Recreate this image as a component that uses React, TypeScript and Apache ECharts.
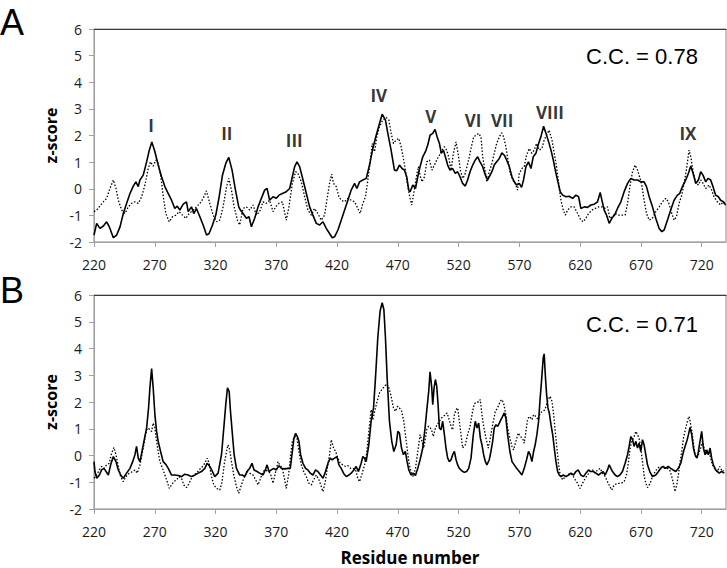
import React, { useEffect, useRef } from "react";
import * as echarts from "echarts";

// ---- Panel A: solid profile ----
const aSolidX = [220,222.2,224.9,227.7,230.4,232.6,235.9,238.6,241.4,244.1,246.8,249.6,252.3,254.5,256.4,257.8,260.5,263.3,265.5,267.6,270.1,272.8,275.6,278.3,281.1,283.8,286.5,288.5,290.6,293.4,296.1,297.5,300.2,302.1,304.3,307.1,309.8,312.6,314.7,317.5,320.2,323,325.7,328.4,330.9,333.6,336.4,339.1,340.5,342.6,345.4,347.6,349.5,352.2,355,357.7,360.4,362.4,364.5,367.3,370,372.2,375,378.2,381,383.2,385.1,387,389.2,392,394.7,397.4,400.1,402.9,405.6,408.4,411.1,413.8,416,418,420.7,423.4,426.2,428.9,431.6,434.4,436.3,438.5,441.2,444,446.7,449.4,452.2,454.9,457.1,459.8,461.7,464.4,467.2,469.1,471.3,473.5,475.4,477.3,479,480.1,482.3,484.5,486.4,488.3,490.5,492.7,494.6,496.5,498.7,500.6,502.3,504.2,505.8,507.5,509.1,511,512.9,515.1,517.3,519.2,521.1,523.3,525.5,527.4,529.4,531.6,533.7,535.7,537.6,539.8,542,543.9,545.2,547.4,549.3,551.3,553.5,555.6,557.6,559.5,561.7,563.9,565.8,567.7,569.9,571.8,573.4,575.4,577.5,579.5,581.4,583.6,585.8,587.7,589.9,591.9,594.1,596,597.9,600.1,602,603.6,605.6,608.3,611,613.8,616.5,618.7,620.6,623.4,626.1,628.8,631.6,634.3,636.5,637.9,639.8,641.7,643.9,646.1,648.3,650.7,653.5,656.2,659,661.7,664.4,667.2,669.9,672.6,674.6,676.8,679.5,682.2,685,687.2,689.1,691.8,694.5,697.3,700,701.9,704.1,706.9,709.1,711,712.9,715.1,717.3,719.2,721.1,723.3,725.2,727.4,729.3,731.5,733.7,735.6,737.8,739.7];
const aSolidY = [-1.74,-1.3,-1.49,-1.4,-1.24,-1.43,-1.84,-1.74,-1.43,-0.93,-0.55,-0.18,0.1,0.26,0.08,0.33,0.51,1.01,1.45,1.76,1.39,0.89,0.45,0.08,-0.18,-0.43,-0.74,-0.65,-0.8,-0.58,-0.49,-0.86,-0.68,-0.93,-0.74,-1.05,-1.36,-1.74,-1.68,-1.36,-0.99,-0.3,0.51,0.95,1.18,0.7,-0.05,-0.68,-0.8,-0.93,-1.11,-1.05,-1.43,-1.11,-0.68,-0.36,-0.05,0.01,-0.43,-0.3,-0.36,-0.24,-0.18,-0.11,0.01,0.45,0.83,1.01,0.83,0.33,-0.18,-0.68,-0.99,-1.3,-1.36,-1.24,-1.49,-1.68,-1.84,-1.8,-1.55,-1.18,-0.8,-0.43,-0.05,0.2,0.01,0.26,0.33,0.39,0.89,1.51,2.01,2.45,2.8,2.58,2.1,1.46,0.7,0.68,0.89,0.76,0.7,0.45,-0.05,-0.11,0.14,0.01,0.45,0.83,1.2,1.39,1.64,2.01,2.08,2.23,1.95,1.7,1.33,1.45,1.2,0.89,0.7,0.76,0.58,0.64,0.45,0.2,0.1,0.33,0.64,0.89,1.08,1.2,1.01,0.83,0.51,0.33,0.45,0.64,0.89,1.01,1.14,1.35,1.26,1.08,0.83,0.45,0.26,0.14,0.2,0.05,0.33,0.83,1.01,0.76,1.2,1.33,1.7,1.95,2.35,2.08,1.76,1.45,1.08,0.58,0.2,-0.11,-0.24,-0.3,-0.28,-0.36,-0.24,-0.3,-0.74,-0.68,-0.7,-0.61,-0.58,-0.49,-0.14,-0.43,-0.8,-0.99,-1.3,-1.11,-0.99,-0.74,-0.49,-0.11,0.2,0.39,0.33,0.33,0.26,0.26,0.08,-0.3,-0.68,-1.11,-1.49,-1.61,-1.55,-1.18,-0.8,-0.43,-0.24,-0.18,0.08,0.33,0.58,0.85,0.58,0.2,0.33,0.64,0.51,0.26,0.39,0.33,0.08,-0.24,-0.3,-0.43,-0.49,-0.61];

// ---- Panel A: dotted profile ----
const aDotX = [220,222.2,224.9,227.7,230.4,233.1,235.9,238.1,240,242.7,245.5,248.2,250.9,253.7,256.4,259.2,261.9,264.6,266.5,268.7,270.9,272.8,275,277,279.1,281.9,284.6,287.4,290.1,292.8,295.6,298.3,301.6,304.3,307.1,309.8,312.5,315.3,318,320.8,323.5,326.2,329,330.9,333.1,335.3,338,339.9,342.6,345.4,348.1,350.9,353.6,356.3,359.1,361.8,364.5,367.3,369.5,372.2,375,378.2,380.4,383.2,385.9,387.8,390.6,393.3,396,398.8,401.5,404.2,407,409.7,411.6,413.8,415.5,417.1,419.3,421.5,423.4,426.1,428.9,431.6,434.4,437.1,439,441.2,443.4,445.3,447.2,448.9,450.8,452.7,454.9,457.6,460.4,462.6,464.5,466.4,468.6,470.8,472.7,474.1,476.2,478.2,479.5,481.4,483.1,485,486.9,488.6,489.9,491.9,493.8,496,498.1,500.1,502,504.2,506.4,508.3,510.2,511.8,513.8,515.7,517.9,519.8,521.4,523.3,525,526.9,528.8,530.5,532.4,534.3,536.5,538.4,539.8,541.7,543.3,545.2,547.4,549.3,551.3,553.5,555.4,557,558.9,560.6,562.2,564.4,566.6,568.5,569.9,572.1,574,575.9,578.1,580.3,582.2,584.1,586.3,588.5,590.4,592.3,594.5,595.2,596.8,598.7,600.6,602.3,604.2,606.1,607.8,609.7,612.4,615.1,617.9,620.6,622.5,624.7,626.9,629.7,632.4,635.1,637.9,640.6,642.5,644.4,646.6,648.8,651.6,654.3,657,659,660.9,663.1,665.3,667.2,668.5,670.5,672.6,674.6,676.8,679.5,682.2,685,687.7,690.4,692.6,694.5,697.3,699.2,701.4,703.6,705.5,707.4,709.6,711.3,712.9,715.1,717.3,719.2,721.1,723.3,726,728.2,730.1,732.9,735.6,737.8,739.7];
const aDotY = [-0.86,-0.8,-0.65,-0.49,-0.36,0.01,0.33,0.01,-0.43,-0.8,-0.93,-0.68,-0.55,-0.49,-0.55,-0.3,0.14,0.76,1.01,0.85,1.08,0.95,0.45,-0.3,-0.93,-1.24,-1.05,-0.99,-0.86,-0.99,-1.11,-0.93,-0.8,-0.68,-0.55,-0.36,-0.08,-0.55,-0.99,-1.24,-1.18,-0.68,0.05,0.39,-0.05,-0.68,-1.18,-1.36,-0.74,-0.68,-0.8,-0.61,-0.99,-0.86,-0.49,-0.55,-0.43,-0.86,-0.68,-0.55,-0.49,-1.18,-0.68,0.2,0.64,0.58,0.26,-0.3,-0.8,-0.99,-0.74,-0.93,-1.18,-0.99,-0.43,0.2,0.55,0.2,0.08,-0.3,-0.43,-0.49,-0.36,-0.43,-0.49,-0.74,-0.93,-0.55,-0.3,0.33,1.01,1.7,1.39,1.95,2.33,2.58,2.68,2.58,2.08,1.7,1.83,1.89,1.58,1.26,0.7,0.08,-0.24,-0.61,-0.18,0.39,0.83,0.45,0.26,0.45,1.01,1.08,0.7,0.89,1.08,1.26,1.45,1.58,1.45,1.2,0.7,1.33,1.76,1.26,0.7,0.39,0.51,0.83,1.2,1.58,1.95,2.01,2.08,1.95,1.2,0.7,0.26,0.64,0.95,1.33,1.7,1.95,2.1,1.95,1.58,1.08,0.64,0.33,0.2,-0.05,0.58,0.76,0.83,1.26,1.51,1.33,1.45,1.7,1.45,1.51,1.83,2.01,2.2,2.08,1.83,1.33,0.83,0.2,-0.43,-0.8,-0.99,-0.8,-0.68,-0.68,-0.93,-1.18,-1.24,-1.11,-0.93,-0.8,-0.74,-0.68,-0.68,-0.74,-0.68,-1.11,-1.05,-0.93,-0.99,-0.99,-0.99,-0.55,0.08,0.64,0.89,0.7,0.51,0.2,-0.43,-0.93,-1.18,-1.11,-0.86,-0.68,-0.49,-0.36,-0.49,-0.8,-1.18,-1.05,-0.55,-0.24,0.2,0.7,1.45,1.14,0.64,0.26,0.14,0.33,0.2,0.01,0.14,-0.05,-0.3,-0.49,-0.61,-0.49,-0.61];

// ---- Panel B: solid profile ----
const bSolidX = [220,220.8,222.2,224.4,226.3,228.2,229.9,231.8,233.7,235.9,238.1,240,241.9,244.1,246.8,249.6,251.8,253.7,255,256.4,257.8,259.2,261.1,263.3,264.9,266,267.4,268.7,270.1,271.5,272.8,274.8,276.9,279.1,281.1,283.8,286.5,289.3,292,294.7,297.5,300.2,303,305.7,308.4,311.2,313.1,315.3,317.5,319.4,322.1,324.9,326.8,328.4,329.8,331.2,332.3,333.9,335.3,337.2,339.9,342.1,344,345.9,348.1,350,351.7,354.1,356.3,359.1,361,362.4,364,365.9,367.8,370,372.2,374.1,376.9,379.6,381.5,383.2,384.5,385.9,387.3,388.6,390,391.9,394.1,396,397.9,400.1,402.3,404.2,406.4,408.4,410.5,412.5,414.4,416,417.9,419.9,421.5,423.4,425.3,427.5,429.7,431.6,433.8,435.7,437.6,439.8,441.2,442.6,443.9,446.1,448,450,451.6,453.5,455.4,457.1,458.5,459.8,461.2,463.1,465,466.7,468.6,470,471.3,473,474.6,476.2,477.6,479,480.9,482.8,484.5,486.4,488.3,490.5,492.4,494,495.4,496.5,497.9,498.7,499.8,500.9,502,503.1,504.2,505.5,506.9,508.3,509.6,511,512.4,513.8,515.1,516.5,517.9,519.2,520.6,522.8,524.7,526.6,528.3,530.2,532.1,533.7,535.1,536.5,537.9,539.2,540.6,542,543.3,545.2,546.6,548,549.3,550.7,552.1,553.5,554.8,556.2,557.6,558.9,560.3,562.2,563.9,565.8,567.7,569.9,572.1,574,575.9,577.5,578.9,580.3,581.7,583,584.4,585.8,586.9,588.2,589.6,590.4,591.3,592.4,593.5,594.6,596,597.4,598.7,600.1,601.5,602.8,604.2,606.1,608.3,610.5,612.4,614.6,616.5,618.4,620.6,622.8,624.7,626.9,628.8,630.8,632.9,635.1,637,639,640.6,642.5,643.9,645.3,646.6,648.8,650.7,652.7,654.8,657,659,660.3,661.7,663.1,664.4,665.8,667.2,668.5,669.9,671.3,672.6,674,675.4,677.3,679.5,682.2,684.4,686.3,688.3,690.4,692.4,694.5,696.5,698.7,700.8,702.8,704.7,706.3,707.7,709.1,710.4,711.8,713.2,714.5,716.2,717.3,718.6,720,721.4,722.8,724.1,725.5,726.9,728.2,729.6,731.5,734.3,736.4,738.6];
const bSolidY = [-0.23,-0.6,-0.85,-0.73,-0.54,-0.48,-0.6,-0.73,-0.35,-0.04,-0.23,-0.54,-0.73,-0.85,-0.66,-0.48,-0.23,0.03,0.34,-0.1,-0.23,0.09,0.53,1.03,1.78,2.53,3.25,2.53,1.53,0.9,0.53,0.15,-0.23,-0.33,-0.48,-0.73,-0.73,-0.75,-0.79,-0.7,-0.73,-0.79,-0.73,-0.66,-0.6,-0.48,-0.29,-0.41,-0.6,-0.79,-0.66,0.03,1.03,1.9,2.53,2.4,1.65,0.78,0.03,-0.48,-0.73,-0.73,-0.79,-0.6,-0.48,-0.29,-0.54,-0.6,-0.66,-0.73,-0.54,-0.35,-0.6,-0.54,-0.48,-0.54,-0.38,-0.48,-0.5,-0.48,-0.48,0.15,0.65,0.83,0.71,0.53,0.03,-0.29,-0.48,-0.54,-0.66,-0.73,-0.54,-0.6,-0.73,-0.85,-0.6,-0.29,-0.1,-0.16,-0.1,-0.04,-0.35,-0.48,-0.66,-0.79,-0.73,-0.66,-0.54,-0.41,-0.6,-0.29,-0.04,-0.1,-0.23,0.4,1.28,1.78,2.9,4.4,5.4,5.71,5.46,4.4,2.9,1.28,0.53,0.15,0.4,0.9,0.84,0.28,0.03,0.15,-0.23,-0.54,-0.73,-0.66,-0.75,-0.48,-0.16,0.28,1.03,1.78,2.4,3.13,2.53,1.9,2.53,2.84,2.59,1.9,1.03,0.96,1.28,0.78,0.28,-0.1,-0.23,-0.16,0.03,0.15,-0.16,-0.35,-0.48,-0.58,-0.63,-0.6,-0.48,-0.1,0.78,1.28,1.03,1.21,0.65,0.4,0.03,-0.23,-0.35,-0.16,0.15,0.53,1.03,1.15,1.09,1.21,1.34,1.46,1.59,1.4,0.78,0.15,-0.23,-0.35,-0.48,-0.6,-0.73,-0.48,-0.16,0.15,0.03,-0.23,0.15,0.4,0.78,1.28,2.03,2.78,3.65,3.8,3.03,2.28,1.78,1.59,1.15,0.78,0.28,-0.23,-0.6,-0.73,-0.79,-0.73,-0.79,-0.73,-0.66,-0.73,-0.6,-0.54,-0.73,-0.79,-0.66,-0.54,-0.6,-0.6,-0.66,-0.73,-0.66,-0.6,-0.73,-0.54,-0.35,-0.48,-0.6,-0.73,-0.79,-0.73,-0.6,-0.29,0.03,0.34,0.71,0.59,0.34,0.53,0.28,0.46,0.15,0.59,0.4,0.03,-0.35,-0.6,-0.79,-0.73,-0.6,-0.48,-0.41,-0.48,-0.41,-0.48,-0.54,-0.6,-0.48,-0.29,0.09,0.34,0.53,0.78,1.05,0.78,0.28,0.03,-0.1,0.15,0.53,0.9,0.28,0.03,0.21,0.03,0.28,-0.1,-0.35,-0.54,-0.66,-0.6,-0.66];

// ---- Panel B: dotted profile ----
const bDotX = [220,222.2,224.4,226.3,228.2,230.4,232.6,234.5,236.4,238.1,240,241.9,244.1,246.3,249,251.8,253.7,255.6,257.8,260,261.9,263.3,264.6,266,267.4,268.7,270.1,271.5,272.8,274.2,276.4,278.3,280.2,281.9,283.8,285.7,287.9,290.1,292,293.9,296.1,298.3,300.2,302.1,304.3,306.5,309.3,311.2,313.1,314.7,316.7,318.6,320.8,323.5,325.4,327.1,329,330.3,331.7,333.1,335,337.2,339.1,342.1,344,345.9,348.1,350.9,353,355,357.1,359.1,361.3,363.2,365.1,367.3,369.5,371.4,372.8,375,376.9,378.2,380.1,381.8,383.2,385.1,387,388.6,390.6,392.5,394.7,396.8,398.8,400.7,402.9,405.1,407,408.4,410.3,411.9,413.8,415.2,417.1,418.8,420.7,422.6,424.8,427,428.9,431.1,433,435.2,437.1,438.5,440.7,442.6,444.5,446.7,448,449.4,451.6,453,454.9,456.8,459,460.9,462.6,464.5,466.4,468,469.9,471.3,473.2,474.9,476.2,477.6,479,480.1,481.4,482.8,484.5,486.4,488.3,489.9,491.3,492.7,494,495.4,496.8,498.1,499.2,500.9,502.3,504.2,505.8,507.5,509.1,510.5,511.8,513.8,515.1,516.5,517.9,519.2,520.6,522,523.3,525.5,527.4,529.4,531.5,532.9,534.8,536.5,537.8,539.2,540.6,542.5,544.4,546.1,548,550.2,552.1,554.3,555.6,557,558.9,560.3,562.2,563.9,565.2,567.1,569.1,570.7,572.6,574,575.4,576.7,578.1,580.3,581.7,583.6,585.5,587.1,589.1,591,593.2,595.2,596.8,598.2,599.5,600.9,602.3,603.6,605.6,607.8,609.7,611.6,613.8,616,617.9,619.8,622,624.2,626.1,628,630.2,632.4,634.3,636.5,638.4,640.6,642.5,644.4,646.1,648,650.7,653.5,656.2,658.1,659.8,661.1,662.5,664.4,665.8,667.2,668.5,669.9,671.3,672.6,674,675.4,677.6,679.5,681.7,683.6,685.5,687.7,689.9,691.8,693.7,695.4,696.7,698.1,699.5,700.8,702.2,703.6,705,706.9,708.5,709.6,711,712.3,713.7,715.1,717.3,719.2,720.6,721.9,723.3,724.7,726,727.4,728.8,730.7,732.9,734.8,737,738.5];
const bDotY = [-0.85,-0.73,-0.54,-0.41,-0.48,-0.35,-0.29,0.09,0.3,0.03,-0.41,-0.79,-0.98,-0.79,-0.66,-0.6,-0.54,-0.66,-0.35,0.15,0.65,0.96,1.03,0.96,0.9,1.21,1.03,0.53,0.15,-0.23,-0.48,-0.73,-0.98,-1.23,-1.1,-0.98,-0.91,-0.79,-0.85,-1.1,-1.2,-1.04,-0.85,-0.73,-0.66,-0.54,-0.41,-0.29,-0.1,-0.29,-0.79,-1.1,-1.23,-1.29,-0.98,-0.35,0.15,0.4,0.21,-0.23,-0.73,-1.16,-1.41,-0.98,-0.79,-0.6,-0.66,-0.73,-0.91,-1.1,-0.85,-0.6,-0.54,-0.6,-0.66,-1.04,-0.6,-0.23,-0.35,-0.48,-0.91,-1.23,-0.73,0.03,0.53,0.71,0.65,0.15,-0.35,-0.6,-0.79,-1.04,-1.1,-0.91,-0.73,-0.91,-1.16,-1.35,-0.98,-0.48,0.03,0.59,0.28,0.15,-0.1,-0.29,-0.35,-0.41,-0.38,-0.48,-0.48,-0.54,-0.85,-0.98,-0.66,-0.35,0.15,1.15,1.71,1.34,1.78,2.03,2.34,2.46,2.59,2.68,2.53,2.21,1.78,1.65,1.84,1.78,1.65,1.28,0.78,0.28,-0.23,-0.48,-0.66,-0.79,-0.48,0.15,0.78,0.53,0.28,0.65,1.03,1.09,1.03,0.9,0.71,1.03,1.15,1.28,1.4,1.46,1.53,1.59,1.4,1.09,0.96,1.53,1.71,1.78,1.28,0.78,0.28,0.4,0.78,1.09,1.65,1.93,2.0,2.0,2.09,1.53,1.09,0.65,0.28,0.65,1.15,1.65,1.78,2.03,2.09,1.96,1.53,1.03,0.65,0.34,0.21,0.53,0.84,0.71,0.65,0.46,0.9,1.34,1.46,1.34,1.53,1.46,1.34,1.59,1.65,1.71,2.03,2.21,2.03,1.53,0.9,0.28,-0.35,-0.73,-0.91,-0.79,-0.73,-0.66,-0.73,-0.91,-1.04,-1.23,-1.04,-0.85,-0.73,-0.6,-0.54,-0.66,-0.54,-0.48,-0.66,-0.79,-0.98,-1.16,-1.29,-1.1,-1.04,-1.04,-0.98,-0.73,-0.23,0.28,0.53,0.71,0.9,0.78,0.65,0.28,-0.23,-0.73,-1.04,-1.2,-1.04,-0.79,-0.6,-0.48,-0.41,-0.45,-0.48,-0.48,-0.54,-0.79,-1.04,-1.35,-1.1,-0.73,-0.23,0.15,0.65,1.03,1.34,1.46,1.15,0.78,0.28,-0.1,0.03,0.28,0.53,0.28,0.15,0.03,0.15,-0.1,-0.35,-0.48,-0.6,-0.41,-0.6,-0.54];

// ---- Helix labels in panel A (residue, z-score) ----
const helixNames = ["I", "II", "III", "IV", "V", "VI", "VII", "VIII", "IX"];
const helixX = [266.9, 329.3, 384.8, 454.3, 497, 531.9, 555.8, 595.2, 708.7];
const helixY = [2.36, 2.09, 1.83, 3.52, 2.73, 2.58, 2.58, 2.88, 2.09];

const panelLetters = ["A", "B"];
const ccLabels = ["C.C. = 0.78", "C.C. = 0.71"];
const xTickMin = 220;
const xTickStep = 50;

const zip = (xs: number[], ys: number[]) => xs.map((x, i) => [x, ys[i]]);

export default function App() {
  const ref = useRef<HTMLDivElement>(null);
  useEffect(() => {
    if (!ref.current) return;
    const chart = echarts.init(ref.current, undefined, { renderer: "svg" });
    const grids = [
      { left: 94, top: 29, right: 1, height: 213 },
      { left: 94, top: 295, right: 1, height: 214 },
    ];
    const tickFont = { fontFamily: "Open Sans", fontSize: 14, color: "#1a1a1a" };
    const xAxes: any[] = [0, 1].map((i) => ({
      type: "value",
      gridIndex: i,
      min: 220,
      max: 740,
      interval: xTickStep,
      name: i === 1 ? "Residue number" : "",
      nameLocation: "middle",
      nameGap: 40,
      nameTextStyle: { fontFamily: "Open Sans", fontWeight: "bold", fontSize: 17, color: "#000" },
      axisLine: { show: true, onZero: false, lineStyle: { color: "#a0a0a0", width: 1 } },
      axisTick: { show: true, length: 5, lineStyle: { color: "#a0a0a0" } },
      axisLabel: {
        ...tickFont,
        margin: 15,
        showMaxLabel: false,
        formatter: (v: number) => ((v - xTickMin) % xTickStep === 0 ? String(v) : ""),
      },
      splitLine: { show: false },
    }));
    [0, 1].forEach((i) =>
      xAxes.push({
        type: "value",
        gridIndex: i,
        position: "top",
        min: 220,
        max: 740,
        axisLine: { show: true, onZero: false, lineStyle: { color: "#3a3a3a", width: 1.2 } },
        axisTick: { show: false },
        axisLabel: { show: false },
        splitLine: { show: false },
      })
    );
    const yAxes = [0, 1].map((i) => ({
      type: "value",
      gridIndex: i,
      min: -2,
      max: 6,
      interval: 1,
      name: "z-score",
      nameLocation: "middle",
      nameGap: 33,
      nameRotate: 90,
      nameTextStyle: { fontFamily: "Open Sans", fontWeight: "bold", fontSize: 16, color: "#000" },
      axisLine: { show: true, onZero: false, lineStyle: { color: "#a0a0a0" } },
      axisTick: { show: true, length: 5, lineStyle: { color: "#a0a0a0" } },
      axisLabel: { ...tickFont, margin: 12 },
      splitLine: { show: false },
    }));
    const solid = { color: "#000", width: 1.6 };
    const dotted = { color: "#000", width: 1.3, type: [1.5, 1.8] as any };
    const lineBase = { type: "line", symbol: "none", showSymbol: false, silent: true };
    chart.setOption({
      animation: false,
      grid: grids.map((g) => ({ ...g, show: true, borderColor: "#8a8a8a", borderWidth: 1 })),
      xAxis: xAxes,
      yAxis: yAxes,
      series: [
        { ...lineBase, xAxisIndex: 0, yAxisIndex: 0, data: zip(aDotX, aDotY), lineStyle: dotted, z: 2 },
        { ...lineBase, xAxisIndex: 0, yAxisIndex: 0, data: zip(aSolidX, aSolidY), lineStyle: solid, z: 3 },
        { ...lineBase, xAxisIndex: 1, yAxisIndex: 1, data: zip(bDotX, bDotY), lineStyle: dotted, z: 2 },
        { ...lineBase, xAxisIndex: 1, yAxisIndex: 1, data: zip(bSolidX, bSolidY), lineStyle: solid, z: 3 },
        {
          type: "scatter",
          xAxisIndex: 0,
          yAxisIndex: 0,
          symbolSize: 0,
          silent: true,
          data: helixNames.map((n, i) => ({ name: n, value: [helixX[i], helixY[i]] })),
          label: {
            show: true,
            position: "inside",
            formatter: "{b}",
            fontFamily: "Open Sans",
            fontWeight: "bold",
            fontSize: 17,
            color: "#000",
          },
          z: 5,
        },
      ],
      graphic: [
        { type: "text", left: 0, top: 4, style: { text: panelLetters[0], fontFamily: "Liberation Sans", fontSize: 36, fill: "#000" } },
        { type: "text", left: 0, top: 272, style: { text: panelLetters[1], fontFamily: "Liberation Sans", fontSize: 36, fill: "#000" } },
        { type: "text", left: 586, top: 45, style: { text: ccLabels[0], fontFamily: "Liberation Sans", fontSize: 22, fill: "#000" } },
        { type: "text", left: 586, top: 313, style: { text: ccLabels[1], fontFamily: "Liberation Sans", fontSize: 22, fill: "#000" } },
      ],
    });
    return () => chart.dispose();
  }, []);
  return (
    <div
      ref={ref}
      style={{ position: "absolute", left: 0, top: 0, width: 727, height: 568, background: "#fff" }}
    />
  );
}
